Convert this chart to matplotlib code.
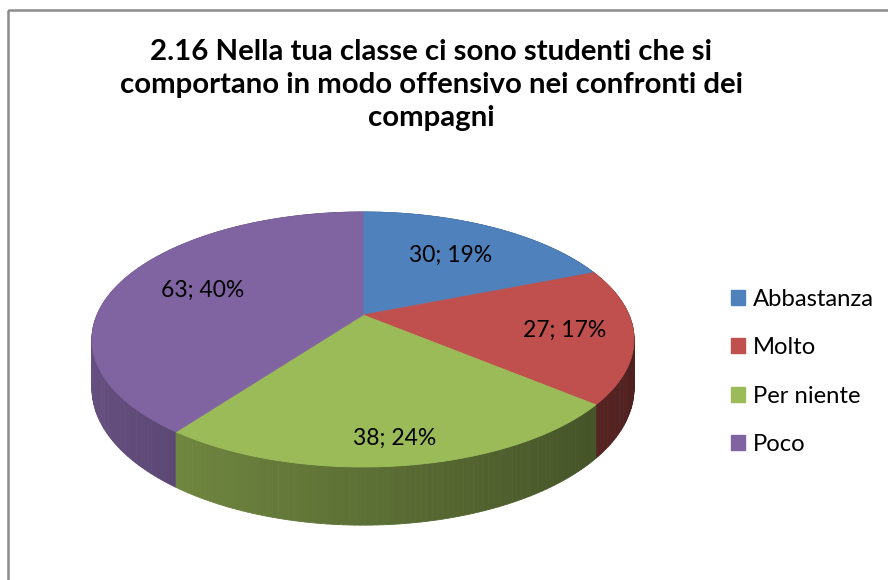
import numpy as np
import matplotlib.pyplot as plt
from matplotlib.patches import Polygon, Rectangle, Patch
import matplotlib.colors as mcolors

labels = ["Abbastanza", "Molto", "Per niente", "Poco"]
values = [30, 27, 38, 63]
colors = ["#4F81BD", "#C0504D", "#9BBB59", "#8064A2"]
title = ("2.16 Nella tua classe ci sono studenti che si\n"
         "comportano in modo offensivo nei confronti dei\n"
         "compagni")
label_r = [0.65, 0.75, 0.85, 0.66]  # radial position of the data labels

plt.rcParams['font.family'] = ['Lato', 'DejaVu Sans']
fig = plt.figure(figsize=(8.88, 5.80), dpi=100)
ax = fig.add_axes([0, 0, 1, 1])
ax.set_xlim(0, 888)
ax.set_ylim(580, 0)
ax.axis('off')

# perspective projection of the pie disc (pixel units)
cx, cy = 363, 315
A, B, k = 266, 122.8, 0.192
depth = 47

def proj(u, v, z=0.0):
    d = 1 + k*v
    return cx + A*u/d, cy - B*v/d + z*depth/d

vals = np.array(values, dtype=float)
frac = vals/vals.sum()
edges = np.concatenate([[0], np.cumsum(frac)])*2*np.pi  # clockwise from 12 o'clock

# side walls, drawn back to front
segs = []
for i in range(len(values)):
    ts = np.linspace(edges[i], edges[i+1], max(int((edges[i+1]-edges[i])*60), 4))
    for t0, t1 in zip(ts[:-1], ts[1:]):
        tm = 0.5*(t0+t1)
        segs.append((np.cos(tm), np.sin(tm), i, t0, t1))
segs.sort(key=lambda s: -s[0])
for v, u, i, t0, t1 in segs:
    pts = [proj(np.sin(t0), np.cos(t0)), proj(np.sin(t1), np.cos(t1)),
           proj(np.sin(t1), np.cos(t1), 1), proj(np.sin(t0), np.cos(t0), 1)]
    f = 0.80 - 0.40*(u+1)/2
    c = np.array(mcolors.to_rgb(colors[i]))*f
    ax.add_patch(Polygon(pts, closed=True, facecolor=c, edgecolor=c, lw=0.6))

# top faces
for i in range(len(values)):
    ts = np.linspace(edges[i], edges[i+1], 200)
    pts = [proj(0, 0)] + [proj(np.sin(t), np.cos(t)) for t in ts]
    ax.add_patch(Polygon(pts, closed=True, facecolor=colors[i],
                         edgecolor=colors[i], lw=0.6, zorder=3))

# data labels
for i in range(len(values)):
    tm = 0.5*(edges[i]+edges[i+1])
    x, y = proj(label_r[i]*np.sin(tm), label_r[i]*np.cos(tm))
    ax.text(x, y, f"{values[i]}; {frac[i]*100:.0f}%", ha='center', va='center',
            fontsize=16.5, color='black', zorder=5)

ax.text(431, 85, title, ha='center', va='center', fontsize=21.2,
        fontweight='bold', linespacing=1.33)

handles = [Patch(facecolor=c, edgecolor=c) for c in colors]
ax.legend(handles, labels, loc='center left', bbox_to_anchor=(0.812, 0.359),
          frameon=False, fontsize=17.2, handlelength=0.6, handleheight=0.6,
          handletextpad=0.35, labelspacing=1.15, borderaxespad=0)

ax.add_patch(Rectangle((8, 10), 950, 650, fill=False, edgecolor='#8c8c8c', lw=1.8))

fig.savefig("out.png", dpi=100)
